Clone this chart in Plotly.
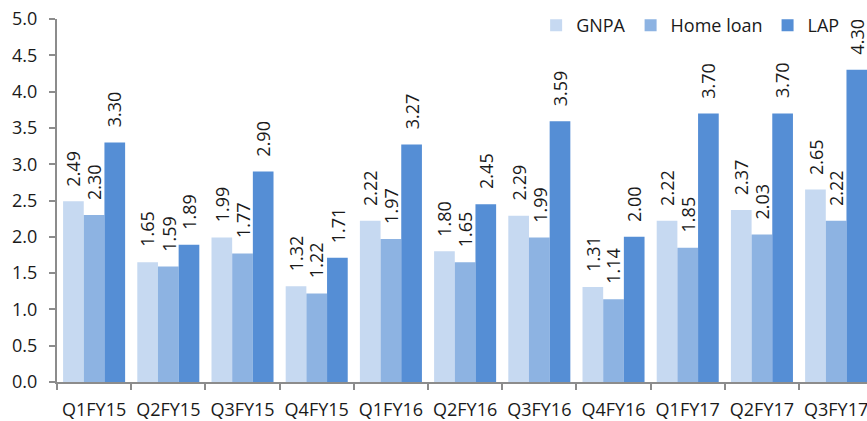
import plotly.graph_objects as go

quarters = ["Q1FY15", "Q2FY15", "Q3FY15", "Q4FY15", "Q1FY16", "Q2FY16",
            "Q3FY16", "Q4FY16", "Q1FY17", "Q2FY17", "Q3FY17"]
gnpa = [2.49, 1.65, 1.99, 1.32, 2.22, 1.80, 2.29, 1.31, 2.22, 2.37, 2.65]
home_loan = [2.30, 1.59, 1.77, 1.22, 1.97, 1.65, 1.99, 1.14, 1.85, 2.03, 2.22]
lap = [3.30, 1.89, 2.90, 1.71, 3.27, 2.45, 3.59, 2.00, 3.70, 3.70, 4.30]

series = [("GNPA", gnpa, "#C6D9F1"),
          ("Home loan", home_loan, "#8DB3E2"),
          ("LAP", lap, "#558ED5")]

FONT = "Open Sans"
FS = 18
W, H = 867, 421
ML, MR, MT, MB = 57, 0, 19, 39
BARGAP = 0.164
X_RANGE = [-0.5, 10.416]

fig = go.Figure()
for name, vals, color in series:
    fig.add_trace(go.Bar(
        name=name, x=quarters, y=vals,
        marker=dict(color=color, line=dict(width=0)),
    ))

# rotated value labels above each bar
cat_px = (W - ML - MR) / (X_RANGE[1] - X_RANGE[0])
bar_px = cat_px * (1 - BARGAP) / len(series)
annotations = []
for i, (name, vals, color) in enumerate(series):
    shift = (i - (len(series) - 1) / 2) * bar_px
    for q, v in zip(quarters, vals):
        annotations.append(dict(
            x=q, y=v, xref="x", yref="y",
            text=f"{v:.2f}", showarrow=False, textangle=-90,
            xanchor="center", yanchor="bottom",
            xshift=shift, yshift=13,
            font=dict(family=FONT, size=FS, color="#1a1a1a"),
        ))

fig.update_layout(
    width=W, height=H,
    margin=dict(l=ML, r=MR, t=MT, b=MB, autoexpand=False),
    paper_bgcolor="white", plot_bgcolor="white",
    barmode="group", bargap=BARGAP, bargroupgap=0,
    font=dict(family=FONT, size=FS, color="#1a1a1a"),
    showlegend=True,
    legend=dict(orientation="h", x=0.973, xanchor="right", y=1.033, yanchor="top",
                font=dict(family=FONT, size=FS, color="#1a1a1a"),
                bgcolor="rgba(0,0,0,0)", itemwidth=30, tracegroupgap=0),
    annotations=annotations,
)
fig.update_xaxes(
    range=X_RANGE, showline=True, linecolor="#8c8c8c", linewidth=2,
    ticks="outside", tickson="boundaries", ticklen=6, tickcolor="#8c8c8c", tickwidth=2,
    showgrid=False, ticklabelstandoff=10, tickangle=0, automargin=False,
    tickfont=dict(family=FONT, size=FS, color="#1a1a1a"),
)
fig.update_yaxes(
    range=[0, 5], dtick=0.5, tickformat=".1f", showline=True,
    linecolor="#8c8c8c", linewidth=2, ticks="outside", ticklen=6,
    tickcolor="#8c8c8c", tickwidth=2, showgrid=False, zeroline=False,
    ticklabelstandoff=8, automargin=False,
    tickfont=dict(family=FONT, size=FS, color="#1a1a1a"),
)

fig.write_html("out.html")
